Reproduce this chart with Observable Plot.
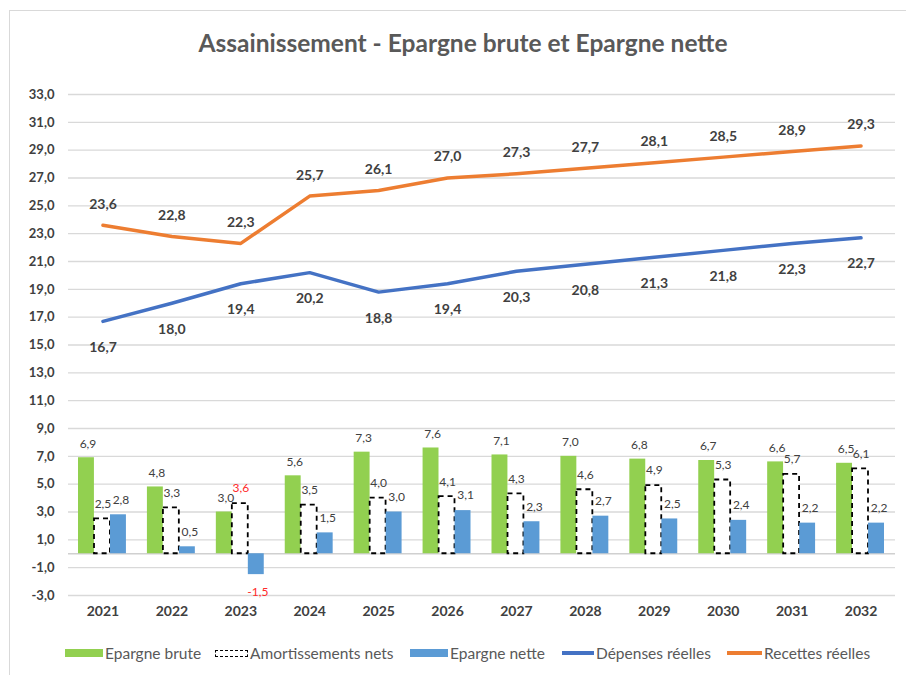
<!DOCTYPE html>
<html>
<head>
<meta charset="utf-8">
<script src="https://cdn.jsdelivr.net/npm/d3@7"></script>
<script src="https://cdn.jsdelivr.net/npm/@observablehq/plot@0.6"></script>
<style>
  html, body { margin: 0; padding: 0; background: #fff; width: 906px; height: 675px; overflow: hidden; font-family: Lato, "Open Sans", sans-serif; }
  #frame { position: absolute; left: 9px; top: 10px; width: 920px; height: 700px; border: 1.5px solid #d9d9d9; box-sizing: border-box; }
  #title { position: absolute; left: 0; width: 926px; top: 28px; text-align: center; font-size: 24.5px; font-weight: bold; color: #595959; }
  #chart { position: absolute; left: 0; top: 70px; }
  #legend { position: absolute; top: 643px; left: 0; width: 906px; height: 20px; font-size: 15.5px; color: #595959; }
  .item { position: absolute; top: 0; height: 20px; display: flex; align-items: center; white-space: nowrap; }
  .sw { display: inline-block; margin-right: 2px; }
  svg g[aria-label="x-axis"] text, svg g[aria-label="x-axis tick label"] text { font-size: 14px; }
</style>
</head>
<body>
<div id="frame"></div>
<div id="title">Assainissement - Epargne brute et Epargne nette</div>
<div id="chart"></div>
<div id="legend"></div>
<script>
const years = ["2021","2022","2023","2024","2025","2026","2027","2028","2029","2030","2031","2032"];
const epargneBrute = [6.9, 4.8, 3.0, 5.6, 7.3, 7.6, 7.1, 7.0, 6.8, 6.7, 6.6, 6.5];
const amortissements = [2.5, 3.3, 3.6, 3.5, 4.0, 4.1, 4.3, 4.6, 4.9, 5.3, 5.7, 6.1];
const epargneNette = [2.8, 0.5, -1.5, 1.5, 3.0, 3.1, 2.3, 2.7, 2.5, 2.4, 2.2, 2.2];
const depenses = [16.7, 18.0, 19.4, 20.2, 18.8, 19.4, 20.3, 20.8, 21.3, 21.8, 22.3, 22.7];
const recettes = [23.6, 22.8, 22.3, 25.7, 26.1, 27.0, 27.3, 27.7, 28.1, 28.5, 28.9, 29.3];
const yTicks = [-3, -1, 1, 3, 5, 7, 9, 11, 13, 15, 17, 19, 21, 23, 25, 27, 29, 31, 33];
const redYears = ["2023"];
const legendNames = ["Epargne brute", "Amortissements nets", "Epargne nette", "Dépenses réelles", "Recettes réelles"];

const data = years.map((y, i) => ({
  year: y, brute: epargneBrute[i], amort: amortissements[i], nette: epargneNette[i],
  dep: depenses[i], rec: recettes[i]
}));
const fmt = v => v.toFixed(1).replace(".", ",");

const C_GREEN = "#92d050", C_BLUE_BAR = "#5b9bd5", C_BLUE_LINE = "#4472c4", C_ORANGE = "#ed7d31";
const TXT = "#404040", RED = "#ff2a2a";
const isRed = d => redYears.includes(d.year);
const small = {fontSize: 12, fontWeight: "normal"};

const chart = Plot.plot({
  width: 906,
  height: 560,
  marginLeft: 68,
  marginRight: 11,
  marginTop: 24,
  marginBottom: 35,
  style: {fontFamily: "Lato, 'Open Sans', sans-serif", fontSize: "13px", fontWeight: "bold", color: TXT, background: "transparent"},
  x: {domain: years, padding: 0, round: false, tickSize: 0, tickPadding: 11, label: null},
  y: {domain: [-3, 33], ticks: yTicks, tickFormat: fmt, tickSize: 0, tickPadding: 14, label: null},
  marks: [
    Plot.ruleY(yTicks, {stroke: "#d9d9d9", strokeWidth: 1.3}),
    Plot.ruleY([0], {stroke: "#d0d0d0", strokeWidth: 1.3}),
    Plot.barY(data, {x: "year", y: "brute", fill: C_GREEN, insetLeft: 10, insetRight: 43}),
    Plot.barY(data, {x: "year", y: "amort", fill: "white", stroke: "black", strokeWidth: 1.8, strokeDasharray: "5,4", insetLeft: 26, insetRight: 27}),
    Plot.barY(data, {x: "year", y: "nette", fill: C_BLUE_BAR, insetLeft: 42, insetRight: 11}),
    Plot.line(data, {x: "year", y: "rec", stroke: C_ORANGE, strokeWidth: 3.5}),
    Plot.line(data, {x: "year", y: "dep", stroke: C_BLUE_LINE, strokeWidth: 3.5}),
    Plot.text(data, {x: "year", y: "rec", text: d => fmt(d.rec), dy: -21, fontSize: 14, fontWeight: "bold", fill: TXT}),
    Plot.text(data, {x: "year", y: "dep", text: d => fmt(d.dep), dy: 26, fontSize: 14, fontWeight: "bold", fill: TXT}),
    Plot.text(data, {x: "year", y: "brute", text: d => fmt(d.brute), dx: -15, dy: -14, ...small, fill: TXT}),
    Plot.text(data.filter(d => !isRed(d)), {x: "year", y: "amort", text: d => fmt(d.amort), dx: 0, dy: -15, ...small, fill: TXT}),
    Plot.text(data.filter(isRed), {x: "year", y: "amort", text: d => fmt(d.amort), dx: 0, dy: -15, ...small, fill: RED}),
    Plot.text(data.filter(d => !isRed(d)), {x: "year", y: "nette", text: d => fmt(d.nette), dx: 18, dy: -15, ...small, fill: TXT}),
    Plot.text(data.filter(isRed), {x: "year", y: "nette", text: d => fmt(d.nette), dx: 17, dy: 18, ...small, fill: RED})
  ]
});
document.getElementById("chart").appendChild(chart);

// Legend
const legendItems = [
  {name: legendNames[0], left: 65, sw: `<span class="sw" style="width:38px;height:8px;background:${C_GREEN}"></span>`},
  {name: legendNames[1], left: 215, sw: `<span class="sw" style="width:33px;height:7px;border:1.5px dashed #000;box-sizing:border-box;background:#fff"></span>`},
  {name: legendNames[2], left: 410, sw: `<span class="sw" style="width:38px;height:8px;background:${C_BLUE_BAR}"></span>`},
  {name: legendNames[3], left: 562, sw: `<span class="sw" style="width:32px;height:3.5px;background:${C_BLUE_LINE}"></span>`},
  {name: legendNames[4], left: 727, sw: `<span class="sw" style="width:35px;height:3.5px;background:${C_ORANGE}"></span>`}
];
const leg = document.getElementById("legend");
for (const it of legendItems) {
  const div = document.createElement("div");
  div.className = "item";
  div.style.left = it.left + "px";
  div.innerHTML = it.sw + `<span>${it.name}</span>`;
  leg.appendChild(div);
}
</script>
</body>
</html>
